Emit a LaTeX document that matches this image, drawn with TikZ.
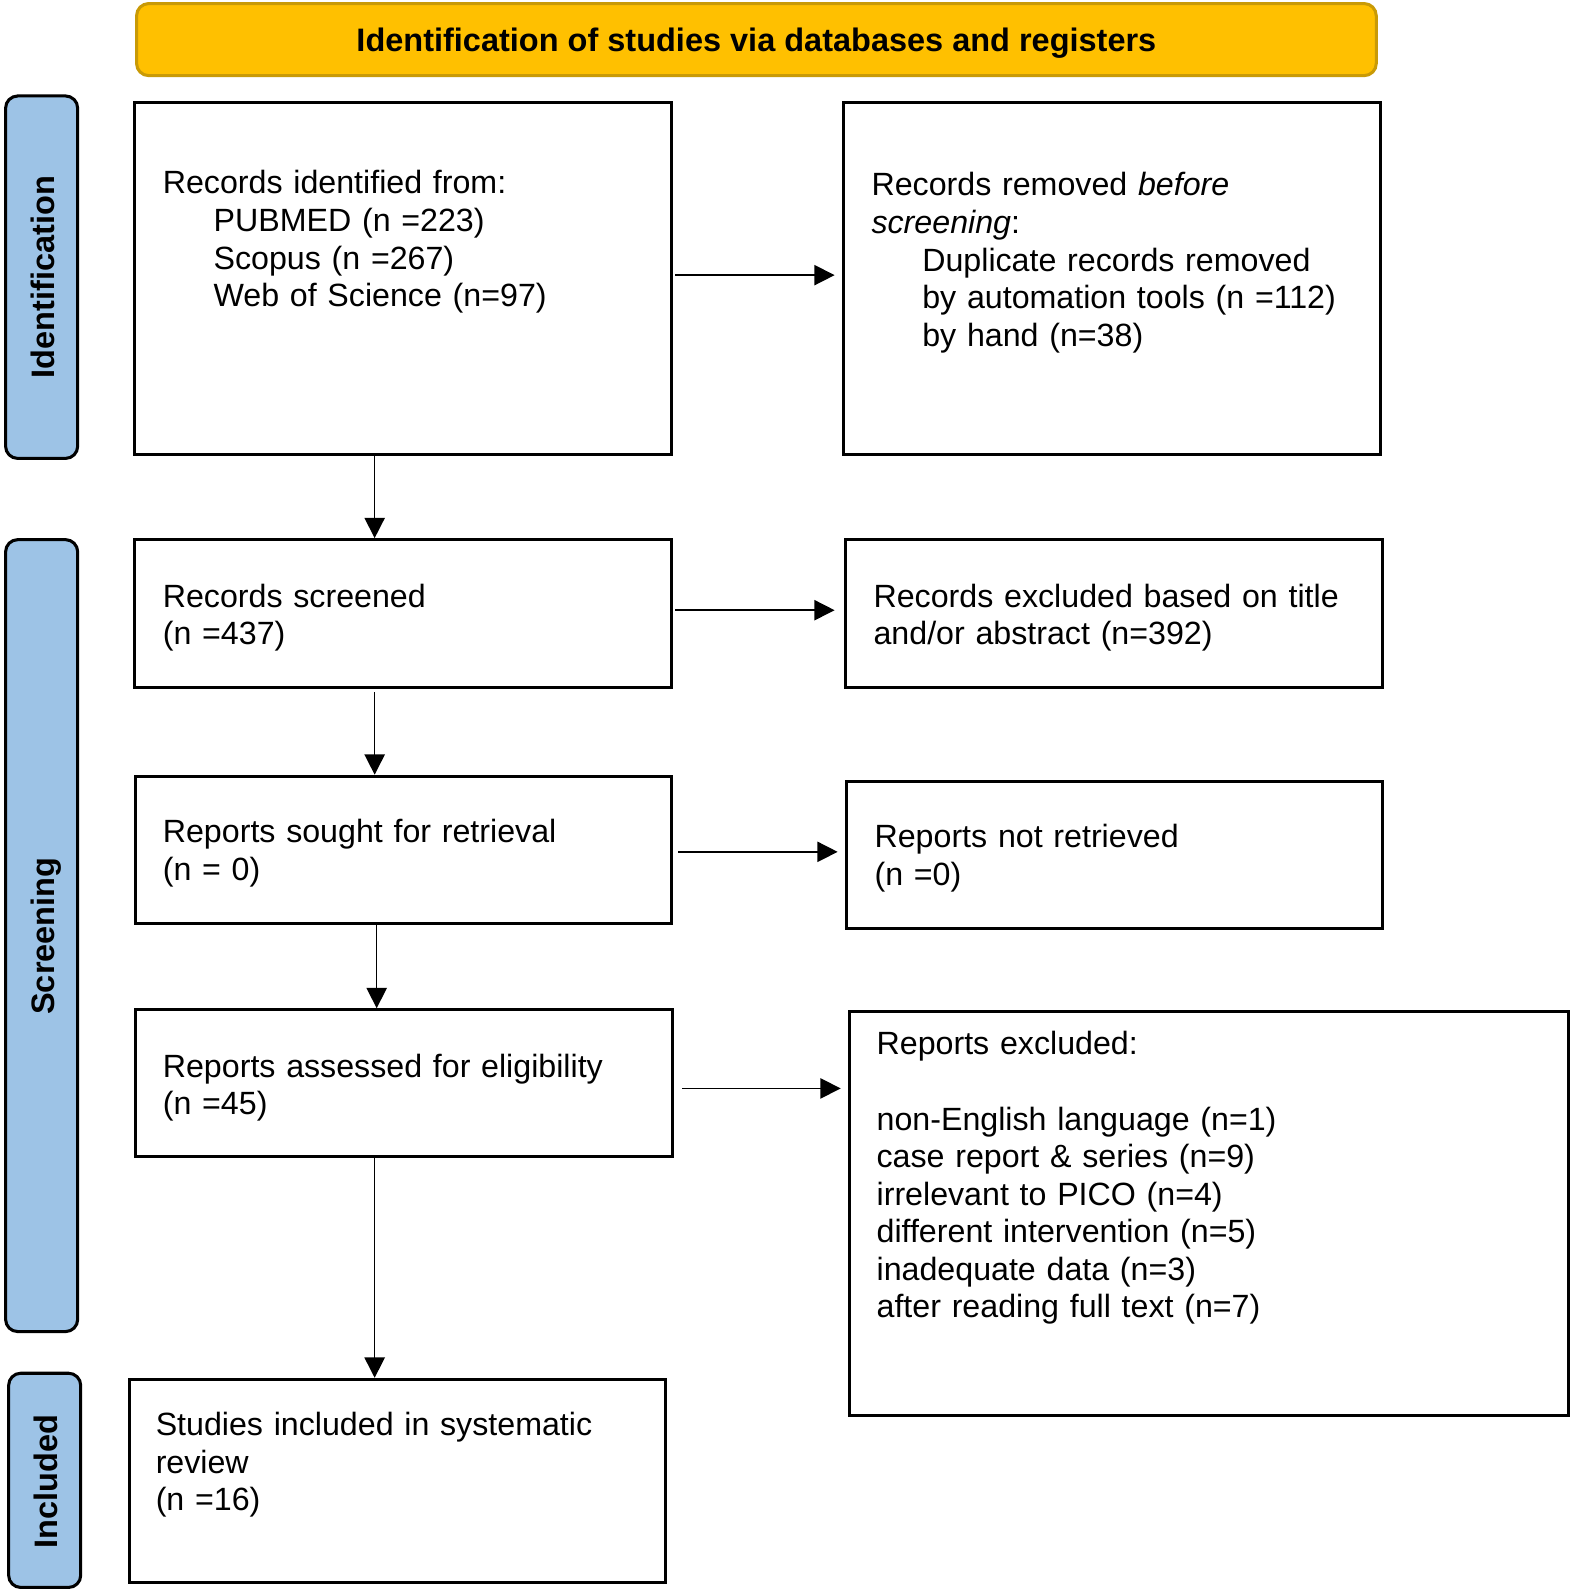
\documentclass[tikz,border=0pt]{standalone}
\usepackage{fontspec}
\setmainfont{Liberation Sans}
\usetikzlibrary{arrows.meta,fit,calc}
\definecolor{goldfill}{HTML}{FFC000}
\definecolor{goldline}{HTML}{C99A06}
\definecolor{bluefill}{HTML}{9DC3E6}
\tikzset{
  box/.style={draw=black, line width=1.5pt, inner sep=0pt, fit={#1}},
  sidebar/.style={draw=black, fill=bluefill, line width=1.5pt, rounded corners=6pt, inner sep=0pt, fit={#1}},
  titlebar/.style={draw=goldline, fill=goldfill, line width=1.5pt, rounded corners=6pt, inner sep=0pt, fit={#1}},
  txt/.style={anchor=base west, inner sep=0pt, text width=340pt, align=left, font={\fontsize{15.85pt}{18.5pt}\selectfont}},
  sidetxt/.style={anchor=base, rotate=90, inner sep=0pt, font={\fontsize{16pt}{18.5pt}\selectfont\bfseries}},
  arr/.style={line width=0.75pt, -{Triangle[length=10pt,width=10pt]}},
}
\begin{document}
\begin{tikzpicture}[x=0.5pt,y=-0.5pt]
\useasboundingbox (0,0) rectangle (1547,1567);
% title
\node[titlebar={(134.5,3.5) (1355.5,74.5)}] (title) {};
\node[anchor=base, inner sep=0pt, font={\fontsize{16pt}{18.5pt}\selectfont\bfseries}] (titletxt) at (745,51) {Identification of studies via databases and registers};
% side bars
\node[sidebar={(5.5,94.5) (76.5,451.5)}] (sideI) {};
\node[sidebar={(5.5,531.5) (76.5,1311.5)}] (sideS) {};
\node[sidebar={(8.5,1352.5) (79.5,1563.5)}] (sideC) {};
\node[sidetxt] (sideItxt) at (54,273) {Identification};
\node[sidetxt] (sideStxt) at (53.5,922) {Screening};
\node[sidetxt] (sideCtxt) at (56.5,1459) {Included};
% boxes
\node[box={(132.5,100.5) (661.5,447.5)}] (B1) {};
\node[box={(830.5,100.5) (1359.5,447.5)}] (B2) {};
\node[box={(132.5,531.5) (661.5,677.5)}] (B3) {};
\node[box={(832.5,531.5) (1361.5,677.5)}] (B4) {};
\node[box={(133.5,764.5) (661.5,909.5)}] (B5) {};
\node[box={(833.5,769.5) (1361.5,914.5)}] (B6) {};
\node[box={(133.5,994.5) (662.5,1139.5)}] (B7) {};
\node[box={(836.5,996.5) (1544.5,1394.5)}] (B8) {};
\node[box={(127.5,1358.5) (655.5,1558.5)}] (B9) {};
% texts
\node[txt] (T1) at (160,191) {Records identified from:\\
\hspace*{25pt}PUBMED (n =223)\\
\hspace*{25pt}Scopus (n =267)\\
\hspace*{25pt}Web of Science (n=97)};
\node[txt] (T2) at (858,193) {Records removed \textit{before}\\
\textit{screening}:\\
\hspace*{25pt}Duplicate records removed\\
\hspace*{25pt}by automation tools (n =112)\\
\hspace*{25pt}by hand (n=38)};
\node[txt] (T3) at (160,598) {Records screened\\(n =437)};
\node[txt] (T4) at (860,598) {Records excluded based on title\\and/or abstract (n=392)};
\node[txt] (T5) at (160,830) {Reports sought for retrieval\\(n = 0)};
\node[txt] (T6) at (861,835) {Reports not retrieved\\(n =0)};
\node[txt] (T7) at (160,1061) {Reports assessed for eligibility\\(n =45)};
\node[txt] (T8) at (863,1039) {Reports excluded:\\[18.5pt]
non-English language (n=1)\\
case report \& series (n=9)\\
irrelevant to PICO (n=4)\\
different intervention (n=5)\\
inadequate data (n=3)\\
after reading full text (n=7)};
\node[txt] (T9) at (153,1414) {Studies included in systematic\\review\\(n =16)};
% arrow guide coordinates
\coordinate (vA) at (369,0);
\coordinate (vB) at (371,0);
\coordinate (h1) at (0,271);
\coordinate (h2) at (0,601);
\coordinate (h3) at (0,839);
\coordinate (h4) at (0,1072);
% horizontal arrows
\draw[arr, shorten <=1pt, shorten >=3.5pt] (B1.east |- h1) -- (B2.west |- h1);
\draw[arr, shorten <=1pt, shorten >=4.5pt] (B3.east |- h2) -- (B4.west |- h2);
\draw[arr, shorten <=2.5pt, shorten >=3.5pt] (B5.east |- h3) -- (B6.west |- h3);
\draw[arr, shorten <=4pt, shorten >=3.5pt] (B7.east |- h4) -- (B8.west |- h4);
% vertical arrows
\draw[arr] (B1.south -| vA) -- (B3.north -| vA);
\draw[arr, shorten <=1.5pt] (B3.south -| vA) -- (B5.north -| vA);
\draw[arr] (B5.south -| vB) -- (B7.north -| vB);
\draw[arr] (B7.south -| vA) -- (B9.north -| vA);
\end{tikzpicture}
\end{document}
